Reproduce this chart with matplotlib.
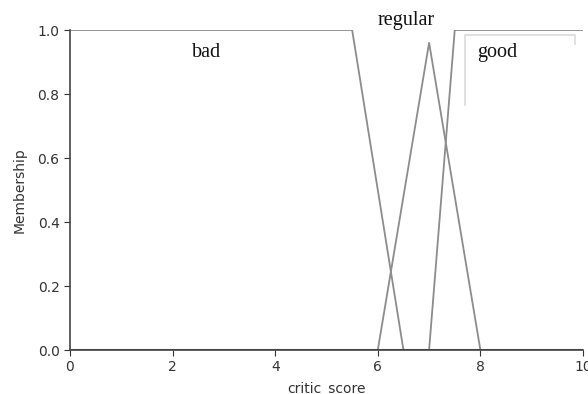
import numpy as np
import matplotlib
matplotlib.use('Agg')
import matplotlib.pyplot as plt


# ─────────────────────────────────────────
# DATA (membership functions)
# ─────────────────────────────────────────
bad_x = [0, 5.5, 6.5, 10]
bad_y = [1.0, 1.0, 0.0, 0.0]

regular_x = [0, 6, 7, 8, 10]
regular_y = [0.0, 0.0, 0.96, 0.0, 0.0]

good_x = [0, 7, 7.5, 10]
good_y = [0.0, 0.0, 1.0, 1.0]

labels = ['bad', 'regular', 'good']
label_x = [2.67, 6.55, 8.32]
label_y = [0.93, 1.03, 0.93]

x_ticks = [0, 2, 4, 6, 8, 10]
y_ticks = [0.0, 0.2, 0.4, 0.6, 0.8, 1.0]


# ─────────────────────────────────────────
# PLOT
# ─────────────────────────────────────────
fig = plt.figure(figsize=(5.88, 3.94), dpi=100)
ax = fig.add_axes([70 / 588, 44 / 394, 513 / 588, 320 / 394])

line_kw = dict(color='#8c8c8c', linewidth=1.3)
ax.plot(bad_x, bad_y, **line_kw)
ax.plot(regular_x, regular_y, **line_kw)
ax.plot(good_x, good_y, **line_kw)

# zero baseline drawn darker where the curves overlap
ax.axhline(0, color='#444444', linewidth=2.2, zorder=3)

for txt, lx, ly in zip(labels, label_x, label_y):
    ax.text(lx, ly, txt, family='Liberation Serif', fontsize=14.5,
            color='#111111', ha='center', va='center', clip_on=False)

# faint leftover legend frame near "good"
ax.plot([0.770, 0.770, 0.985, 0.985], [0.765, 0.985, 0.985, 0.955],
        transform=ax.transAxes, color='#dedede', linewidth=1.3)

ax.set_xlim(0, 10)
ax.set_ylim(0, 1.0)
ax.set_xticks(x_ticks)
ax.set_yticks(y_ticks)
ax.set_yticklabels([f'{v:.1f}' for v in y_ticks])
ax.set_xlabel('critic_score', fontsize=10, color='#333333', labelpad=5)
ax.set_ylabel('Membership', fontsize=10, color='#333333', labelpad=8)
ax.tick_params(colors='#333333', labelsize=10, length=4)

for side in ['top', 'right']:
    ax.spines[side].set_visible(False)
for side in ['left', 'bottom']:
    ax.spines[side].set_color('#444444')
    ax.spines[side].set_linewidth(1.2)

plt.savefig('out.png', dpi=100)
plt.close()
